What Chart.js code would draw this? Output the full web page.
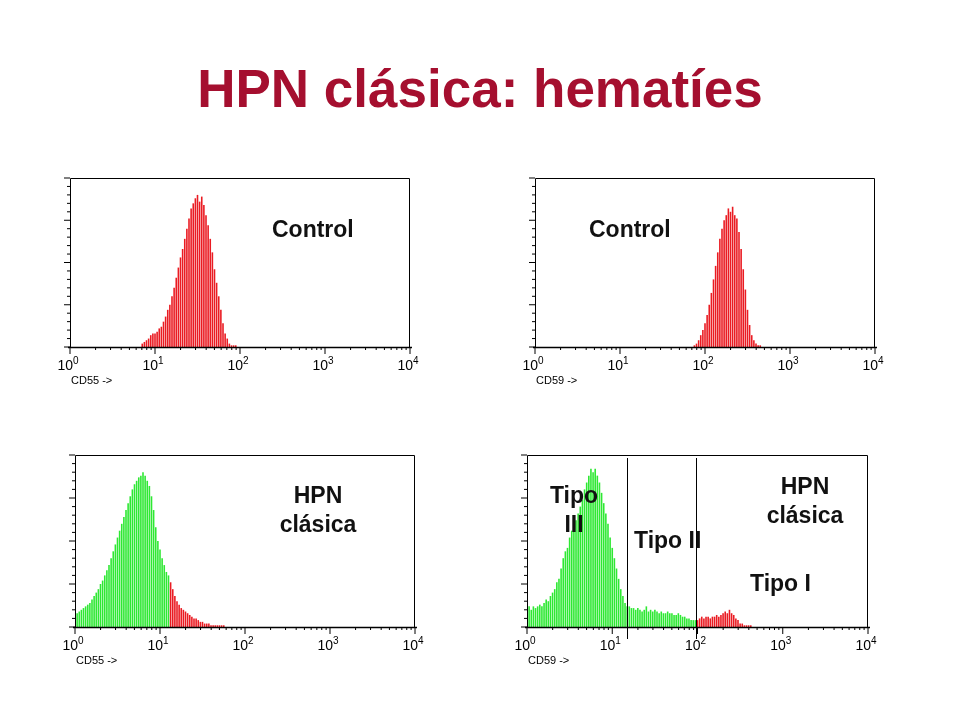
<!DOCTYPE html>
<html><head><meta charset="utf-8">
<script src="https://cdn.jsdelivr.net/npm/chart.js@4"></script>
<style>
body{margin:0;width:960px;height:720px;background:#fff;position:relative;font-family:"Liberation Sans",Arial,sans-serif;overflow:hidden}
canvas{position:absolute}
.t{position:absolute;z-index:5;font-weight:bold;color:#111;font-size:23px;text-align:center;line-height:29px}
h1{position:absolute;left:0;width:960px;top:58px;margin:0;text-align:center;font-size:53px;color:#a50f2f;font-weight:bold}
</style></head><body>
<h1>HPN clásica: hematíes</h1>
<canvas id="c1" style="left:40px;top:170px" width="400" height="230"></canvas>
<canvas id="c2" style="left:505px;top:170px" width="400" height="230"></canvas>
<canvas id="c3" style="left:45px;top:447px" width="400" height="241"></canvas>
<canvas id="c4" style="left:497px;top:447px" width="401" height="241"></canvas>
<div class="t" style="left:272px;top:215px">Control</div>
<div class="t" style="left:589px;top:215px">Control</div>
<div class="t" style="left:268px;top:481px;width:100px">HPN<br>clásica</div>
<div class="t" style="left:539px;top:481px;width:70px">Tipo<br>III</div>
<div class="t" style="left:634px;top:526px">Tipo II</div>
<div class="t" style="left:755px;top:472px;width:100px">HPN<br>clásica</div>
<div class="t" style="left:750px;top:569px">Tipo I</div>
<script>
const CHANNELS = 160; // 40 channels per decade, 4 decades
const decadeLabels = ["0","1","2","3","4"];
const cd55ControlStart = 34;
const cd55Control = [2,3,4,5,7,8,8,9,11,12,15,18,22,25,30,35,41,47,53,58,64,70,76,82,85,88,90,86,89,84,78,72,64,56,46,38,30,22,14,8,5,2,1,1,1];
const cd59ControlStart = 75;
const cd59Control = [1,2,4,7,10,14,19,25,32,40,48,56,64,70,75,78,82,80,83,78,76,68,58,46,34,22,13,7,4,2,1,1];
const cd55PnhStart = 0;
const cd55Pnh = [6,8,9,10,11,12,13,14,16,18,20,22,25,27,30,33,36,40,44,48,52,56,60,64,68,72,76,80,83,85,87,88,90,88,85,82,76,68,58,50,45,40,36,32,30,26,22,18,15,13,11,10,9,8,7,6,5,5,4,3,3,2,2,2,1,1,1,1,1,1,1];
const cd59PnhStart = 0;
const cd59Pnh = [85,12,10,12,11,12,13,12,14,16,15,18,20,22,26,28,34,40,44,46,52,56,58,62,66,70,74,80,84,88,92,90,92,88,84,78,72,66,60,52,46,40,34,28,22,18,14,12,12,11,
11,10,11,10,9,10,12,9,10,9,10,9,8,9,8,8,9,8,8,7,7,8,7,6,6,5,5,4,4,4,
4,5,6,5,6,6,5,6,6,7,6,7,8,9,8,10,8,7,5,4,2,2,1,1,1,1];
const redFrom = {c1:0,c2:0,c3:45,c4:80};
const gates = {c4:[47,79.5]};
const axisNames = {c1:"CD55 ->",c2:"CD59 ->",c3:"CD55 ->",c4:"CD59 ->"};
const RED="#ea1b22", GREEN="#2ee833";

const axesPlugin = {
  id:"flowAxes",
  afterDraw(chart){
    const ctx=chart.ctx, a=chart.chartArea, id=chart.canvas.id;
    const xs=chart.scales.x, px=v=>xs.getPixelForValue(v);
    ctx.save();
    ctx.strokeStyle="#000"; ctx.lineWidth=1;
    ctx.beginPath();
    ctx.moveTo(a.left+.5,a.bottom); ctx.lineTo(a.left+.5,a.top+.5);
    ctx.lineTo(a.right-.5,a.top+.5); ctx.lineTo(a.right-.5,a.bottom);
    ctx.stroke();
    ctx.lineWidth=1.5;
    ctx.beginPath(); ctx.moveTo(a.left-2,a.bottom+.5); ctx.lineTo(a.right+2,a.bottom+.5); ctx.stroke();
    ctx.lineWidth=1;
    for(let d=0;d<4;d++){
      for(let m=1;m<10;m++){
        const x=px(40*(d+Math.log10(m)));
        ctx.beginPath(); ctx.moveTo(x,a.bottom); ctx.lineTo(x,a.bottom+(m===1?7:3)); ctx.stroke();
      }
    }
    const xl=px(160); ctx.beginPath(); ctx.moveTo(xl,a.bottom); ctx.lineTo(xl,a.bottom+7); ctx.stroke();
    ctx.fillStyle="#000";
    decadeLabels.forEach((e,i)=>{
      const x=px(40*i);
      ctx.font="14px 'Liberation Sans',Arial"; ctx.textBaseline="top"; ctx.textAlign="right";
      ctx.fillText("10",x+3,a.bottom+12);
      ctx.font="10px 'Liberation Sans',Arial"; ctx.textAlign="left";
      ctx.fillText(e,x+3,a.bottom+9);
    });
    ctx.font="11px 'Liberation Sans',Arial"; ctx.textAlign="left";
    ctx.fillText(axisNames[id],a.left+1,a.bottom+28);
    const ys=chart.scales.y;
    for(let v=0;v<=100;v+=5){
      const y=ys.getPixelForValue(v);
      ctx.beginPath(); ctx.moveTo(a.left,y); ctx.lineTo(a.left-(v%25===0?6:3),y); ctx.stroke();
    }
    (gates[id]||[]).forEach(g=>{
      const x=Math.round(px(g))+.5;
      ctx.beginPath(); ctx.moveTo(x,a.top+3); ctx.lineTo(x,a.bottom+12); ctx.stroke();
    });
    ctx.restore();
  }
};

function make(id,start,vals){
  const labels=[...Array(CHANNELS+1).keys()];
  const data=labels.map(i=>{const k=i-start;return (k>=0&&k<vals.length)?vals[k]:0;});
  const colors=labels.map(i=>i>=redFrom[id]?RED:GREEN);
  new Chart(document.getElementById(id),{
    type:"bar",
    data:{labels,datasets:[{data,backgroundColor:colors,barPercentage:.75,categoryPercentage:1}]},
    options:{responsive:false,animation:false,
      layout:{padding:{left:30,right:30,top:8,bottom:id==="c1"||id==="c2"?53:61}},
      plugins:{legend:{display:false},tooltip:{enabled:false}},
      scales:{x:{display:false,offset:false},y:{display:false,min:0,max:100}}},
    plugins:[axesPlugin]
  });
}
make("c1",cd55ControlStart,cd55Control);
make("c2",cd59ControlStart,cd59Control);
make("c3",cd55PnhStart,cd55Pnh);
make("c4",cd59PnhStart,cd59Pnh);
</script>
</body></html>
